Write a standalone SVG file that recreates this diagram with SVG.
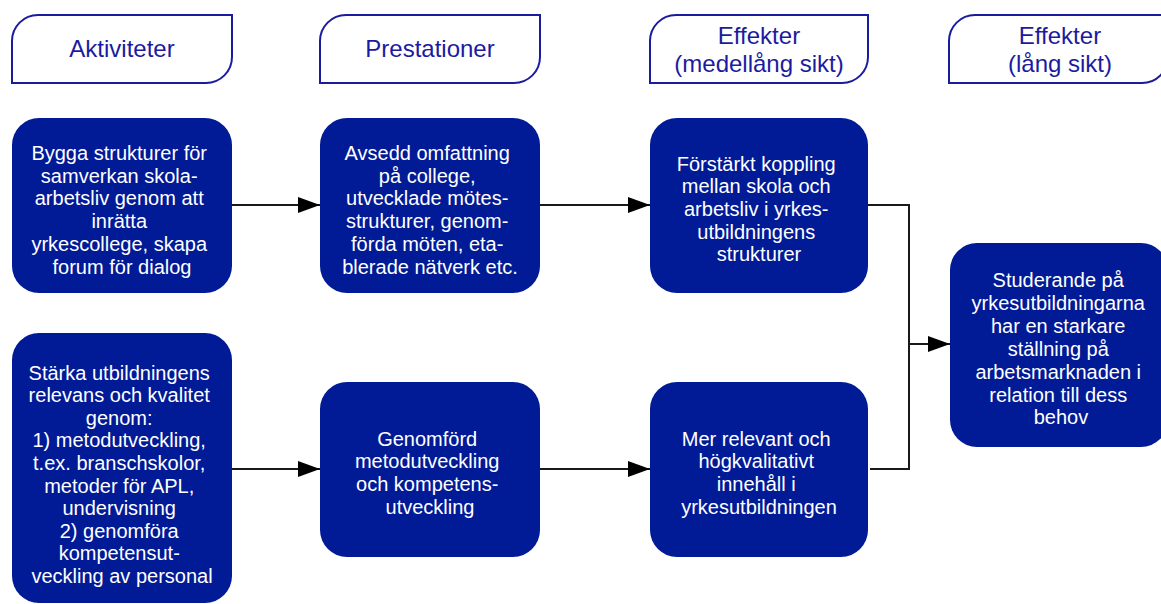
<svg xmlns="http://www.w3.org/2000/svg" width="1161" height="604" viewBox="0 0 1161 604">
  <defs>
    <style>
      .hdr { fill: #ffffff; stroke: #1B1BA0; stroke-width: 2; }
      .hdrtxt { font-family: "Liberation Sans", Arial, sans-serif; font-size: 24px; fill: #1B1BA0; text-anchor: middle; }
      .box { fill: #011A96; }
      .txt { font-family: "Liberation Sans", Arial, sans-serif; font-size: 20px; fill: #ffffff; text-anchor: middle; }
      .conn { fill: none; stroke: #1a1a1a; stroke-width: 2; }
    </style>
    <marker id="arrow" markerUnits="userSpaceOnUse" markerWidth="22" markerHeight="16" refX="22" refY="8" orient="auto">
      <path d="M0,0 L22,8 L0,16 Z" fill="#000000"/>
    </marker>
  </defs>

  <g id="hdr-aktiviteter">
    <path class="hdr" d="M12,83 L12,41 A26,26 0 0 1 38,15 L232,15 L232,57 A26,26 0 0 1 206,83 Z"/>
    <text class="hdrtxt" x="122" y="57">Aktiviteter</text>
  </g>
  <g id="hdr-prestationer">
    <path class="hdr" d="M320,83 L320,41 A26,26 0 0 1 346,15 L540,15 L540,57 A26,26 0 0 1 514,83 Z"/>
    <text class="hdrtxt" x="430" y="57">Prestationer</text>
  </g>
  <g id="hdr-effekter-medel">
    <path class="hdr" d="M650,83 L650,41 A26,26 0 0 1 676,15 L868,15 L868,57 A26,26 0 0 1 842,83 Z"/>
    <text class="hdrtxt" x="759" y="44">Effekter</text>
    <text class="hdrtxt" x="759" y="72">(medellång sikt)</text>
  </g>
  <g id="hdr-effekter-lang">
    <path class="hdr" d="M949,83 L949,41 A26,26 0 0 1 975,15 L1168,15 L1168,57 A26,26 0 0 1 1142,83 Z"/>
    <text class="hdrtxt" x="1060" y="44">Effekter</text>
    <text class="hdrtxt" x="1060" y="72">(lång sikt)</text>
  </g>

  <g id="connectors">
    <line class="conn" x1="232" y1="205" x2="320" y2="205" marker-end="url(#arrow)"/>
    <line class="conn" x1="540" y1="205" x2="650" y2="205" marker-end="url(#arrow)"/>
    <line class="conn" x1="232" y1="469" x2="320" y2="469" marker-end="url(#arrow)"/>
    <line class="conn" x1="540" y1="469" x2="650" y2="469" marker-end="url(#arrow)"/>
    <polyline class="conn" points="868,205 909,205 909,469 870,469"/>
    <line class="conn" x1="909" y1="344" x2="950" y2="344" marker-end="url(#arrow)"/>
  </g>

  <g id="node-bygga">
    <rect class="box" x="12" y="118" width="220" height="175" rx="27"/>
    <text class="txt">
      <tspan x="122" y="160">Bygga strukturer för</tspan>
      <tspan x="122" y="182.7">samverkan skola-</tspan>
      <tspan x="122" y="205.4">arbetsliv genom att</tspan>
      <tspan x="122" y="228.1">inrätta</tspan>
      <tspan x="122" y="250.8">yrkescollege, skapa</tspan>
      <tspan x="122" y="273.5">forum för dialog</tspan>
    </text>
  </g>
  <g id="node-avsedd">
    <rect class="box" x="320" y="118" width="220" height="175" rx="27"/>
    <text class="txt">
      <tspan x="430" y="160">Avsedd omfattning</tspan>
      <tspan x="430" y="182.7">på college,</tspan>
      <tspan x="430" y="205.4">utvecklade mötes-</tspan>
      <tspan x="430" y="228.1">strukturer, genom-</tspan>
      <tspan x="430" y="250.8">förda möten, eta-</tspan>
      <tspan x="430" y="273.5">blerade nätverk etc.</tspan>
    </text>
  </g>
  <g id="node-forstarkt">
    <rect class="box" x="650" y="118" width="218" height="175" rx="27"/>
    <text class="txt">
      <tspan x="759" y="170.5">Förstärkt koppling</tspan>
      <tspan x="759" y="193.2">mellan skola och</tspan>
      <tspan x="759" y="215.9">arbetsliv i yrkes-</tspan>
      <tspan x="759" y="238.6">utbildningens</tspan>
      <tspan x="759" y="261.3">strukturer</tspan>
    </text>
  </g>
  <g id="node-starka">
    <rect class="box" x="12" y="333" width="220" height="270" rx="27"/>
    <text class="txt">
      <tspan x="122" y="379.5">Stärka utbildningens</tspan>
      <tspan x="122" y="402.1">relevans och kvalitet</tspan>
      <tspan x="122" y="424.7">genom:</tspan>
      <tspan x="122" y="447.3">1) metodutveckling,</tspan>
      <tspan x="122" y="469.9">t.ex. branschskolor,</tspan>
      <tspan x="122" y="492.5">metoder för APL,</tspan>
      <tspan x="122" y="515.1">undervisning</tspan>
      <tspan x="122" y="537.7">2) genomföra</tspan>
      <tspan x="122" y="560.3">kompetensut-</tspan>
      <tspan x="122" y="582.9">veckling av personal</tspan>
    </text>
  </g>
  <g id="node-genomford">
    <rect class="box" x="320" y="382" width="220" height="175" rx="27"/>
    <text class="txt">
      <tspan x="430" y="445.5">Genomförd</tspan>
      <tspan x="430" y="468.2">metodutveckling</tspan>
      <tspan x="430" y="490.9">och kompetens-</tspan>
      <tspan x="430" y="513.6">utveckling</tspan>
    </text>
  </g>
  <g id="node-mer-relevant">
    <rect class="box" x="650" y="382" width="218" height="175" rx="27"/>
    <text class="txt">
      <tspan x="759" y="445.5">Mer relevant och</tspan>
      <tspan x="759" y="468.2">högkvalitativt</tspan>
      <tspan x="759" y="490.9">innehåll i</tspan>
      <tspan x="759" y="513.6">yrkesutbildningen</tspan>
    </text>
  </g>
  <g id="node-studerande">
    <rect class="box" x="950" y="243" width="218" height="204" rx="27"/>
    <text class="txt">
      <tspan x="1061" y="287">Studerande på</tspan>
      <tspan x="1061" y="309.9">yrkesutbildningarna</tspan>
      <tspan x="1061" y="332.8">har en starkare</tspan>
      <tspan x="1061" y="355.7">ställning på</tspan>
      <tspan x="1061" y="378.6">arbetsmarknaden i</tspan>
      <tspan x="1061" y="401.5">relation till dess</tspan>
      <tspan x="1061" y="424.4">behov</tspan>
    </text>
  </g>
</svg>
